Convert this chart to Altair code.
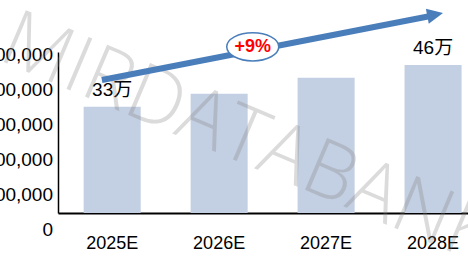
import altair as alt
import pandas as pd

# ---- data ----
years = ["2025E", "2026E", "2027E", "2028E"]
values = [330000, 370000, 420000, 460000]
value_labels = ["33万", "", "", "46万"]
y_ticks = [0, 100000, 200000, 300000, 400000, 500000]
growth_label = ["+9%"]
# annotation arrow, in (category-index units, value units)
arrow_x = [0.41, 3.47]
arrow_y = [413000, 611000]
head_x = [3.525]
head_y = [616000]
badge_x = [1.82]
badge_y = [516000]
watermark = ["MIRDATABANK"]
wm_x = [1.78]
wm_y = [227000]

FONT = "Liberation Sans"
FONT_CJK = "Liberation Sans, Noto Sans CJK SC"
BLUE = "#4a7ebb"
BAR = "#c3cfe2"

bars_df = pd.DataFrame({"year": years, "value": values, "label": value_labels})

xband = alt.X(
    "year:N",
    sort=years,
    scale=alt.Scale(paddingInner=0.467, paddingOuter=0.15, align=0.8),
    axis=alt.Axis(
        title=None, labelAngle=0, labelFont=FONT, labelFontSize=18,
        labelColor="#000000", labelPadding=21, ticks=False, tickSize=0,
        domainColor="#000000", domainWidth=2, grid=False,
    ),
)
yq = alt.Y(
    "value:Q",
    scale=alt.Scale(domain=[0, 500000], nice=False),
    axis=alt.Axis(title=None, labels=False, ticks=False, grid=False,
                  domainColor="#000000", domainWidth=1.5),
)

bars = alt.Chart(bars_df).mark_bar(color=BAR).encode(x=xband, y=yq)
vlabels = alt.Chart(bars_df).mark_text(
    baseline="bottom", dy=-7, fontSize=19, font=FONT_CJK, color="#000000"
).encode(x=alt.X("year:N", sort=years), y="value:Q", text="label:N")
base = alt.layer(bars, vlabels)

# y tick labels (drawn slightly offset as in the reference)
ytick_df = pd.DataFrame({"v": y_ticks})
ylab = alt.Chart(ytick_df).mark_text(
    align="right", baseline="middle", fontSize=19, font=FONT, color="#000000"
).encode(
    x=alt.value(-5),
    y=alt.Y("v:Q", scale=alt.Scale(domain=[0, 500000], range=[178, 3], nice=False), axis=None),
    text=alt.Text("v:Q", format=","),
)

ux = alt.Scale(domain=[0, 4], range=[0, 428])
uy = alt.Scale(domain=[0, 500000], nice=False)

wm_df = pd.DataFrame({"x": wm_x, "y": wm_y, "t": watermark})
wm = alt.Chart(wm_df).mark_text(
    fontSize=79, angle=23, color="#808080", opacity=0.28, font="Open Sans",
    fontWeight=300, align="center", baseline="middle",
).encode(
    x=alt.X("x:Q", scale=ux, axis=None),
    y=alt.Y("y:Q", scale=uy, axis=None),
    text="t:N",
)

arrow_df = pd.DataFrame({"x": [arrow_x[0]], "y": [arrow_y[0]],
                         "x2": [arrow_x[1]], "y2": [arrow_y[1]]})
shaft = alt.Chart(arrow_df).mark_rule(color=BLUE, strokeWidth=6).encode(
    x=alt.X("x:Q", scale=ux, axis=None),
    y=alt.Y("y:Q", scale=uy, axis=None),
    x2="x2:Q", y2="y2:Q",
)
head_df = pd.DataFrame({"x": head_x, "y": head_y})
head = alt.Chart(head_df).mark_point(
    shape="M-1,-0.95L1,0L-1,0.95Z", filled=True, size=256, angle=349,
    color=BLUE, opacity=1, strokeWidth=0,
).encode(x=alt.X("x:Q", scale=ux, axis=None), y=alt.Y("y:Q", scale=uy, axis=None))

badge_df = pd.DataFrame({"x": badge_x, "y": badge_y, "t": growth_label})
badge = alt.Chart(badge_df).mark_point(
    shape="M-1,0A1,0.54,0,1,0,1,0A1,0.54,0,1,0,-1,0Z", size=2704,
    fill="white", stroke=BLUE, strokeWidth=1.5, opacity=1, filled=True,
).encode(x=alt.X("x:Q", scale=ux, axis=None), y=alt.Y("y:Q", scale=uy, axis=None))
badge_text = alt.Chart(badge_df).mark_text(
    color="#ff0000", fontWeight="bold", fontSize=18, font=FONT,
    align="center", baseline="middle",
).encode(x=alt.X("x:Q", scale=ux, axis=None), y=alt.Y("y:Q", scale=uy, axis=None), text="t:N")

overlay = alt.layer(wm, shaft, head, badge, badge_text)

chart = alt.layer(base, ylab, overlay).resolve_scale(
    x="independent", y="independent"
).properties(
    width=410, height=161,
    autosize=alt.AutoSizeParams(type="none"),
    padding={"left": 58, "top": 52, "right": 0, "bottom": 51},
    background="white",
).configure_view(stroke=None)

chart.save("out.html", embed_options={"renderer": "svg", "actions": False})
